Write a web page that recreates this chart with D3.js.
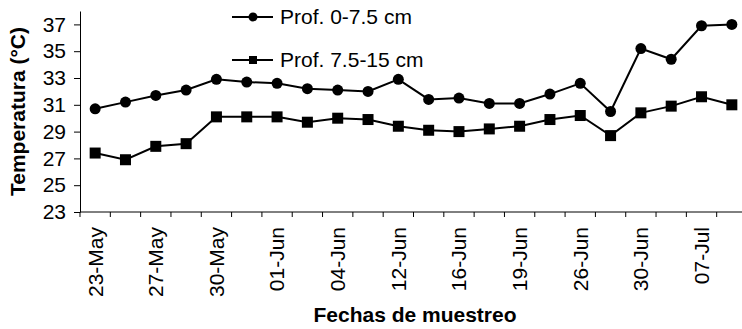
<!DOCTYPE html>
<html lang="es">
<head>
    <meta charset="UTF-8">
    <title>Temperatura del suelo</title>
    <script src="https://d3js.org/d3.v7.min.js"></script>
    <style>
        body { margin: 0; background: white; }
        svg { display: block; font-family: 'Liberation Sans', Arial, sans-serif; }
    </style>
</head>
<body>
<div id="chart"></div>
<script>
    // fechas de muestreo (only every other one gets a label)
    var fechas = ['23-May', '25-May', '27-May', '28-May', '30-May', '31-May', '01-Jun', '02-Jun',
                  '04-Jun', '06-Jun', '12-Jun', '14-Jun', '16-Jun', '17-Jun', '19-Jun', '22-Jun',
                  '26-Jun', '28-Jun', '30-Jun', '03-Jul', '07-Jul', '10-Jul'];
    var prof0a75 = [30.7, 31.2, 31.7, 32.1, 32.9, 32.7, 32.6, 32.2, 32.1, 32.0, 32.9,
                    31.4, 31.5, 31.1, 31.1, 31.8, 32.6, 30.5, 35.2, 34.4, 36.9, 37.0];
    var prof75a15 = [27.4, 26.9, 27.9, 28.1, 30.1, 30.1, 30.1, 29.7, 30.0, 29.9, 29.4,
                     29.1, 29.0, 29.2, 29.4, 29.9, 30.2, 28.7, 30.4, 30.9, 31.6, 31.0];
    var yTicks = [23, 25, 27, 29, 31, 33, 35, 37];
    var seriesNames = ['Prof. 0-7.5 cm', 'Prof. 7.5-15 cm'];

    var svgwidth = 742, svgheight = 329;
    var mLeft = 80, mTop = 11, plotRight = 747, plotBottom = 212;
    var fontSize = '21px';

    var svg = d3.select('#chart').append('svg')
        .attr('width', svgwidth)
        .attr('height', svgheight);

    var x = d3.scaleBand().domain(fechas).range([mLeft, plotRight]);
    var y = d3.scaleLinear().domain([23, 38]).range([plotBottom, mTop]);
    var cx = d => x(d) + x.bandwidth() / 2;

    // y axis
    var yAxis = svg.append('g')
        .attr('transform', 'translate(' + mLeft + ',0)')
        .call(d3.axisLeft(y).tickValues(yTicks).tickSize(6).tickSizeOuter(0).tickPadding(8));
    yAxis.selectAll('text').style('font-size', fontSize).attr('fill', '#000');
    yAxis.selectAll('line, path').attr('stroke', '#000');

    // x axis line and ticks between categories
    svg.append('line')
        .attr('x1', mLeft).attr('x2', plotRight)
        .attr('y1', plotBottom).attr('y2', plotBottom)
        .attr('stroke', '#000');
    svg.selectAll('.xtick')
        .data(fechas.concat(['end']))
        .enter().append('line')
        .attr('x1', (d, i) => i < fechas.length ? x(d) : plotRight)
        .attr('x2', (d, i) => i < fechas.length ? x(d) : plotRight)
        .attr('y1', plotBottom).attr('y2', plotBottom + 5)
        .attr('stroke', '#000');

    // x labels, rotated
    svg.selectAll('.xlabel')
        .data(fechas.filter((d, i) => i % 2 === 0))
        .enter().append('text')
        .attr('transform', d => 'translate(' + cx(d) + ',' + (plotBottom + 15) + ') rotate(-90)')
        .attr('dy', '0.35em')
        .attr('text-anchor', 'end')
        .style('font-size', fontSize)
        .text(d => d);

    // series
    var series = [
        { name: seriesNames[0], values: prof0a75, shape: 'circle' },
        { name: seriesNames[1], values: prof75a15, shape: 'square' }
    ];
    var line = d3.line().x((d, i) => cx(fechas[i])).y(d => y(d));

    series.forEach(function(s) {
        svg.append('path')
            .datum(s.values)
            .attr('fill', 'none')
            .attr('stroke', '#000')
            .attr('stroke-width', 2)
            .attr('d', line);

        var pts = svg.append('g').selectAll('.pt')
            .data(s.values)
            .enter();
        if (s.shape === 'circle') {
            pts.append('circle')
                .attr('cx', (d, i) => cx(fechas[i]))
                .attr('cy', d => y(d))
                .attr('r', 5.5)
                .attr('fill', '#000');
        } else {
            pts.append('rect')
                .attr('x', (d, i) => cx(fechas[i]) - 5.5)
                .attr('y', d => y(d) - 5.5)
                .attr('width', 11)
                .attr('height', 11)
                .attr('fill', '#000');
        }
    });

    // legend
    var legend = svg.selectAll('.legend')
        .data(series)
        .enter().append('g')
        .attr('transform', (d, i) => 'translate(232,' + (17 + i * 43) + ')');
    legend.append('line')
        .attr('x1', 0).attr('x2', 41)
        .attr('stroke', '#000').attr('stroke-width', 2);
    legend.filter(d => d.shape === 'circle').append('circle')
        .attr('cx', 21).attr('r', 4.5).attr('fill', '#000');
    legend.filter(d => d.shape === 'square').append('rect')
        .attr('x', 17).attr('y', -4).attr('width', 8).attr('height', 8).attr('fill', '#000');
    legend.append('text')
        .attr('x', 48)
        .attr('dy', '0.35em')
        .style('font-size', fontSize)
        .text(d => d.name);

    // axis titles
    svg.append('text')
        .attr('transform', 'translate(25,' + ((mTop + plotBottom) / 2) + ') rotate(-90)')
        .attr('text-anchor', 'middle')
        .style('font-size', fontSize)
        .style('font-weight', 'bold')
        .text('Temperatura (°C)');

    svg.append('text')
        .attr('x', 415)
        .attr('y', 322)
        .attr('text-anchor', 'middle')
        .style('font-size', fontSize)
        .style('font-weight', 'bold')
        .text('Fechas de muestreo');
</script>
</body>
</html>
